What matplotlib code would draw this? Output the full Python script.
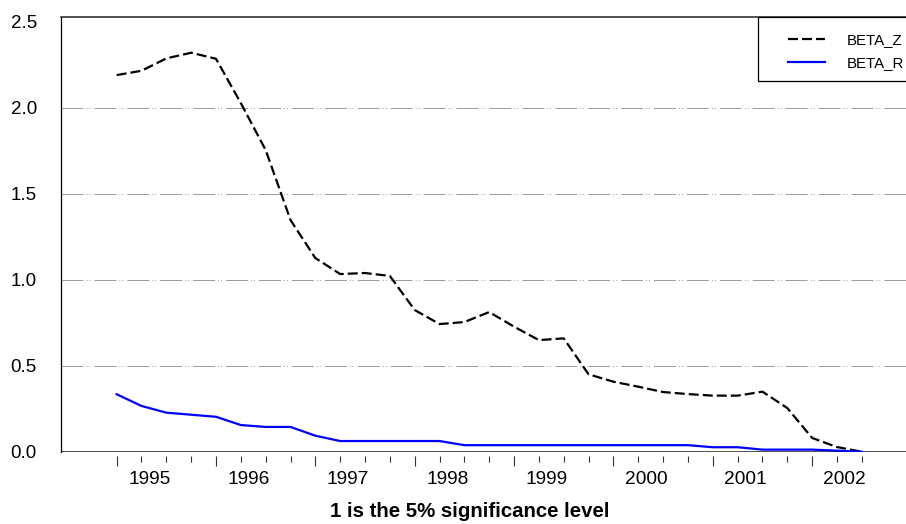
import numpy as np
import matplotlib
matplotlib.use("Agg")
import matplotlib.pyplot as plt
import matplotlib.transforms as mtransforms
from matplotlib.patches import Rectangle

plt.rcParams['font.family'] = ['Liberation Sans', 'DejaVu Sans']
plt.rcParams['lines.scale_dashes'] = False

# quarterly data, 1995Q1 .. 2002Q3
years = [1995, 1996, 1997, 1998, 1999, 2000, 2001, 2002]
beta_z = [2.19, 2.215, 2.287, 2.32, 2.285, 2.027, 1.754, 1.347, 1.126, 1.033,
          1.039, 1.022, 0.824, 0.742, 0.754, 0.812, 0.727, 0.649, 0.659, 0.45,
          0.407, 0.378, 0.347, 0.335, 0.326, 0.326, 0.349, 0.254, 0.08, 0.027,
          0.0]
beta_r = [0.334, 0.266, 0.227, 0.215, 0.203, 0.155, 0.144, 0.144, 0.093, 0.062,
          0.062, 0.062, 0.062, 0.062, 0.038, 0.038, 0.038, 0.038, 0.038, 0.038,
          0.038, 0.038, 0.038, 0.038, 0.026, 0.026, 0.012, 0.012, 0.012, 0.006,
          0.0]
yticks = [0.0, 0.5, 1.0, 1.5, 2.0, 2.5]
title = "1 is the 5% significance level"

W, H = 906, 524
fig = plt.figure(figsize=(W / 100, H / 100), dpi=100)
left, right, top, bottom = 61, 906, 17.3, 451.7
ax = fig.add_axes([left / W, 1 - bottom / H, (right - left) / W, (bottom - top) / H])

x = np.arange(len(beta_z))
ax.plot(x, beta_z, color='black', lw=1.6, ls=(0, (7.2, 2.9)), label='BETA_Z', zorder=3)
ax.plot(x, beta_r, color='#0000ff', lw=1.6, label='BETA_R', zorder=4)

ax.set_xlim(-2.24, 31.78)
ax.set_ylim(0, 2.526)

# horizontal grid (dash-dot-dot, light grey)
grid_style = (0, (15.8, 2.2, 0.7, 1.4, 0.7, 2.9))
for v in yticks[1:-1]:
    ax.axhline(v, color='#9a9a9a', lw=0.7, ls=grid_style, zorder=1)
ax.axhline(0, color='#444444', lw=1.3, zorder=2)

# spines
ax.spines['right'].set_visible(False)
ax.spines['bottom'].set_visible(False)
ax.spines['bottom'].set_position(('outward', 3))
ax.spines['left'].set_linewidth(0.9)
ax.spines['top'].set_linewidth(1.1)
ax.spines['top'].set_color('#222222')

# quarterly ticks: long at Q1, short otherwise
ax.set_xticks(x[::4])
ax.set_xticks([i for i in x if i % 4 != 0], minor=True)
ax.set_xticklabels([])
ax.tick_params(axis='x', which='major', direction='out', length=7.2, width=0.8, color='#333333')
ax.tick_params(axis='x', which='minor', direction='out', length=4.3, width=0.8, color='#333333')

ax.set_yticks(yticks)
ax.set_yticklabels(['%.1f' % v for v in yticks])
ax.tick_params(axis='y', length=0, pad=17.3, labelsize=13.5)

# year labels
trans = mtransforms.blended_transform_factory(ax.transData, ax.transAxes)
for k, yr in enumerate(years):
    ax.text(4 * k + 1.31, -0.075, str(yr), transform=trans, ha='center',
            va='baseline', fontsize=13.8)

fig.text(469.5 / W, 1 - 517.3 / H, title, ha='center', va='baseline',
         fontsize=14.7, fontweight='bold')

# legend box
box = Rectangle(((758 - left) / (right - left), (bottom - 81) / (bottom - top)),
                0.3, (81 - top) / (bottom - top), transform=ax.transAxes,
                facecolor='white', edgecolor='black', lw=0.9, clip_on=False, zorder=5)
ax.add_patch(box)
leg = ax.legend(loc='upper left', bbox_to_anchor=(780 / W, 1 - 26 / H),
                bbox_transform=fig.transFigure, frameon=False, borderpad=0,
                handlelength=2.47, handletextpad=1.5, labelspacing=0.56,
                fontsize=10.8)
leg.set_zorder(6)

fig.savefig('out.png', dpi=100)
